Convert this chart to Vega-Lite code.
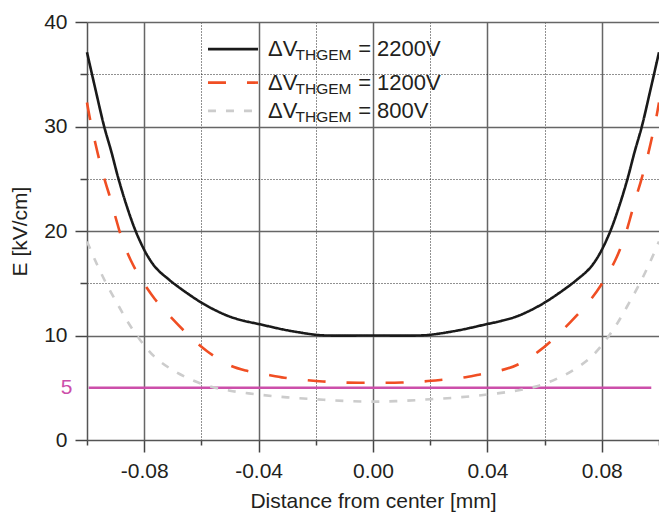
{
  "$schema": "https://vega.github.io/schema/vega-lite/v6.json",
  "width": 572,
  "height": 418,
  "autosize": "none",
  "padding": {"left": 87, "top": 22, "right": 0, "bottom": 72},
  "background": "white",
  "config": {
    "view": {"stroke": null},
    "font": "Liberation Sans",
    "axis": {"labelFont": "Liberation Sans", "titleFont": "Liberation Sans", "titleFontWeight": "normal", "labelColor": "#231f20", "titleColor": "#231f20"}
  },
  "datasets": {
    "curves": [
      {"series": "2200V", "x": -0.1, "E": 37.1},
      {"series": "2200V", "x": -0.097, "E": 33.5},
      {"series": "2200V", "x": -0.094, "E": 30.0},
      {"series": "2200V", "x": -0.0915, "E": 27.6},
      {"series": "2200V", "x": -0.089, "E": 25.0},
      {"series": "2200V", "x": -0.086, "E": 22.3},
      {"series": "2200V", "x": -0.083, "E": 20.0},
      {"series": "2200V", "x": -0.08, "E": 18.2},
      {"series": "2200V", "x": -0.078, "E": 17.25},
      {"series": "2200V", "x": -0.076, "E": 16.5},
      {"series": "2200V", "x": -0.074, "E": 15.95},
      {"series": "2200V", "x": -0.072, "E": 15.5},
      {"series": "2200V", "x": -0.07, "E": 15.05},
      {"series": "2200V", "x": -0.065, "E": 14.05},
      {"series": "2200V", "x": -0.06, "E": 13.15},
      {"series": "2200V", "x": -0.055, "E": 12.4},
      {"series": "2200V", "x": -0.05, "E": 11.8},
      {"series": "2200V", "x": -0.045, "E": 11.4},
      {"series": "2200V", "x": -0.04, "E": 11.1},
      {"series": "2200V", "x": -0.03, "E": 10.5},
      {"series": "2200V", "x": -0.02, "E": 10.07},
      {"series": "2200V", "x": -0.016, "E": 10.0},
      {"series": "2200V", "x": 0.0, "E": 10.0},
      {"series": "2200V", "x": 0.016, "E": 10.0},
      {"series": "2200V", "x": 0.02, "E": 10.07},
      {"series": "2200V", "x": 0.03, "E": 10.5},
      {"series": "2200V", "x": 0.04, "E": 11.1},
      {"series": "2200V", "x": 0.045, "E": 11.4},
      {"series": "2200V", "x": 0.05, "E": 11.8},
      {"series": "2200V", "x": 0.055, "E": 12.4},
      {"series": "2200V", "x": 0.06, "E": 13.15},
      {"series": "2200V", "x": 0.065, "E": 14.05},
      {"series": "2200V", "x": 0.07, "E": 15.05},
      {"series": "2200V", "x": 0.072, "E": 15.5},
      {"series": "2200V", "x": 0.074, "E": 15.95},
      {"series": "2200V", "x": 0.076, "E": 16.5},
      {"series": "2200V", "x": 0.078, "E": 17.25},
      {"series": "2200V", "x": 0.08, "E": 18.2},
      {"series": "2200V", "x": 0.083, "E": 20.0},
      {"series": "2200V", "x": 0.086, "E": 22.3},
      {"series": "2200V", "x": 0.089, "E": 25.0},
      {"series": "2200V", "x": 0.0915, "E": 27.6},
      {"series": "2200V", "x": 0.094, "E": 30.0},
      {"series": "2200V", "x": 0.097, "E": 33.5},
      {"series": "2200V", "x": 0.1, "E": 37.1},

      {"series": "1200V", "x": -0.1, "E": 32.3},
      {"series": "1200V", "x": -0.099, "E": 30.8},
      {"series": "1200V", "x": -0.097, "E": 28.3},
      {"series": "1200V", "x": -0.0955, "E": 26.6},
      {"series": "1200V", "x": -0.0935, "E": 24.6},
      {"series": "1200V", "x": -0.0918, "E": 23.1},
      {"series": "1200V", "x": -0.0898, "E": 21.1},
      {"series": "1200V", "x": -0.0877, "E": 19.2},
      {"series": "1200V", "x": -0.0847, "E": 17.2},
      {"series": "1200V", "x": -0.0813, "E": 15.5},
      {"series": "1200V", "x": -0.0763, "E": 13.5},
      {"series": "1200V", "x": -0.071, "E": 11.85},
      {"series": "1200V", "x": -0.064, "E": 9.9},
      {"series": "1200V", "x": -0.058, "E": 8.5},
      {"series": "1200V", "x": -0.0505, "E": 7.2},
      {"series": "1200V", "x": -0.0445, "E": 6.65},
      {"series": "1200V", "x": -0.037, "E": 6.25},
      {"series": "1200V", "x": -0.031, "E": 5.96},
      {"series": "1200V", "x": -0.0235, "E": 5.74},
      {"series": "1200V", "x": -0.0175, "E": 5.6},
      {"series": "1200V", "x": -0.01, "E": 5.5},
      {"series": "1200V", "x": 0.0, "E": 5.48},
      {"series": "1200V", "x": 0.01, "E": 5.5},
      {"series": "1200V", "x": 0.0175, "E": 5.6},
      {"series": "1200V", "x": 0.0235, "E": 5.74},
      {"series": "1200V", "x": 0.031, "E": 5.96},
      {"series": "1200V", "x": 0.037, "E": 6.25},
      {"series": "1200V", "x": 0.0445, "E": 6.65},
      {"series": "1200V", "x": 0.0505, "E": 7.2},
      {"series": "1200V", "x": 0.058, "E": 8.5},
      {"series": "1200V", "x": 0.064, "E": 9.9},
      {"series": "1200V", "x": 0.071, "E": 11.85},
      {"series": "1200V", "x": 0.0763, "E": 13.5},
      {"series": "1200V", "x": 0.0813, "E": 15.5},
      {"series": "1200V", "x": 0.0847, "E": 17.2},
      {"series": "1200V", "x": 0.0877, "E": 19.2},
      {"series": "1200V", "x": 0.0898, "E": 21.1},
      {"series": "1200V", "x": 0.0918, "E": 23.1},
      {"series": "1200V", "x": 0.0935, "E": 24.6},
      {"series": "1200V", "x": 0.0955, "E": 26.6},
      {"series": "1200V", "x": 0.097, "E": 28.3},
      {"series": "1200V", "x": 0.099, "E": 30.8},
      {"series": "1200V", "x": 0.1, "E": 32.3},

      {"series": "800V", "x": -0.1, "E": 19.0},
      {"series": "800V", "x": -0.097, "E": 17.1},
      {"series": "800V", "x": -0.0935, "E": 15.1},
      {"series": "800V", "x": -0.0895, "E": 13.1},
      {"series": "800V", "x": -0.0855, "E": 11.2},
      {"series": "800V", "x": -0.0815, "E": 9.6},
      {"series": "800V", "x": -0.0765, "E": 8.0},
      {"series": "800V", "x": -0.071, "E": 6.85},
      {"series": "800V", "x": -0.065, "E": 5.95},
      {"series": "800V", "x": -0.058, "E": 5.2},
      {"series": "800V", "x": -0.05, "E": 4.72},
      {"series": "800V", "x": -0.04, "E": 4.35},
      {"series": "800V", "x": -0.03, "E": 4.08},
      {"series": "800V", "x": -0.02, "E": 3.9},
      {"series": "800V", "x": -0.01, "E": 3.74},
      {"series": "800V", "x": 0.0, "E": 3.67},
      {"series": "800V", "x": 0.01, "E": 3.74},
      {"series": "800V", "x": 0.02, "E": 3.9},
      {"series": "800V", "x": 0.03, "E": 4.08},
      {"series": "800V", "x": 0.04, "E": 4.35},
      {"series": "800V", "x": 0.05, "E": 4.72},
      {"series": "800V", "x": 0.058, "E": 5.2},
      {"series": "800V", "x": 0.065, "E": 5.95},
      {"series": "800V", "x": 0.071, "E": 6.85},
      {"series": "800V", "x": 0.0765, "E": 8.0},
      {"series": "800V", "x": 0.0815, "E": 9.6},
      {"series": "800V", "x": 0.0855, "E": 11.2},
      {"series": "800V", "x": 0.0895, "E": 13.1},
      {"series": "800V", "x": 0.0935, "E": 15.1},
      {"series": "800V", "x": 0.097, "E": 17.1},
      {"series": "800V", "x": 0.1, "E": 19.0}
    ],
    "ref": [
      {"x": -0.0994, "E": 5},
      {"x": 0.0973, "E": 5}
    ],
    "legend": [
      {"series": "2200V", "label": "= 2200V", "E": 37.4},
      {"series": "1200V", "label": "= 1200V", "E": 34.2},
      {"series": "800V", "label": "= 800V", "E": 31.5}
    ]
  },
  "layer": [
    {
      "data": {"name": "ref"},
      "mark": {"type": "line", "color": "#CC4FAA", "strokeWidth": 2.5},
      "encoding": {
        "x": {
          "field": "x", "type": "quantitative",
          "scale": {"domain": [-0.1, 0.1], "nice": false, "zero": false},
          "axis": {
            "values": [-0.1, -0.08, -0.06, -0.04, -0.02, 0, 0.02, 0.04, 0.06, 0.08, 0.1],
            "title": "Distance from center [mm]",
            "titleFontSize": 21,
            "titlePadding": 9,
            "labelExpr": "abs(round(datum.value*100)) % 4 == 0 && abs(datum.value) < 0.09 ? (datum.value < -0.001 ? '-' : '') + format(abs(datum.value), '.2f') : ''",
            "labelFontSize": 21,
            "labelPadding": 8,
            "labelFlush": false,
            "labelOverlap": false,
            "tickSize": {"condition": {"test": "abs(round(datum.value*100)) % 4 == 0 && abs(datum.value) < 0.09", "value": 12}, "value": 5},
            "tickColor": "#444",
            "tickWidth": 1.5,
            "domainColor": "#555",
            "domainWidth": 1.5,
            "grid": true,
            "gridColor": {"condition": {"test": "abs(round(datum.value*100)) % 4 == 2", "value": "#222"}, "value": "#666"},
            "gridDash": {"condition": {"test": "abs(round(datum.value*100)) % 4 == 2", "value": [1, 2]}, "value": []},
            "gridWidth": {"condition": {"test": "abs(round(datum.value*100)) % 4 == 2", "value": 1}, "value": 1.5},
            "gridOpacity": {"condition": {"test": "abs(datum.value) > 0.09", "value": 0}, "value": 1}
          }
        },
        "y": {
          "field": "E", "type": "quantitative",
          "scale": {"domain": [0, 40], "nice": false},
          "axis": {
            "values": [0, 5, 10, 15, 20, 25, 30, 35, 40],
            "title": "E [kV/cm]",
            "titleFontSize": 21,
            "titlePadding": 13,
            "labelExpr": "datum.value % 10 == 0 || datum.value == 5 ? datum.label : ''",
            "labelFontSize": 21,
            "labelPadding": 8,
            "labelFlush": false,
            "labelOverlap": false,
            "labelColor": {"condition": {"test": "datum.value == 5", "value": "#CC4FAA"}, "value": "#231f20"},
            "tickSize": {"condition": {"test": "datum.value % 10 == 0", "value": 12}, "value": 7},
            "tickOpacity": {"condition": {"test": "datum.value == 5", "value": 0}, "value": 1},
            "tickColor": "#444",
            "tickWidth": 1.5,
            "domainColor": "#555",
            "domainWidth": 1.5,
            "grid": true,
            "gridColor": {"condition": {"test": "datum.value % 10 == 5", "value": "#222"}, "value": "#666"},
            "gridDash": {"condition": {"test": "datum.value % 10 == 5", "value": [1, 2]}, "value": []},
            "gridWidth": {"condition": {"test": "datum.value % 10 == 5", "value": 1}, "value": 1.5},
            "gridOpacity": {"condition": {"test": "datum.value <= 5", "value": 0}, "value": 1}
          }
        }
      }
    },
    {
      "data": {"name": "curves"},
      "mark": {"type": "line", "strokeWidth": 2.6, "interpolate": "catmull-rom"},
      "encoding": {
        "x": {"field": "x", "type": "quantitative"},
        "y": {"field": "E", "type": "quantitative"},
        "color": {"field": "series", "type": "nominal", "scale": {"domain": ["2200V", "1200V", "800V"], "range": ["#1a1a1a", "#F04E23", "#CCCCCC"]}, "legend": null},
        "strokeDash": {"field": "series", "type": "nominal", "scale": {"domain": ["2200V", "1200V", "800V"], "range": [[1, 0], [18, 21], [8, 10]]}, "legend": null},
        "order": {"field": "x", "type": "quantitative"}
      }
    },
    {
      "data": {"name": "legend"},
      "mark": {"type": "rule", "strokeWidth": 2.6},
      "encoding": {
        "x": {"datum": -0.0577, "type": "quantitative"},
        "x2": {"datum": -0.0402},
        "y": {"field": "E", "type": "quantitative"},
        "color": {"field": "series", "type": "nominal", "legend": null},
        "strokeDash": {"field": "series", "type": "nominal", "legend": null}
      }
    },
    {
      "data": {"name": "legend"},
      "mark": {"type": "text", "align": "left", "baseline": "alphabetic", "dy": 7, "fontSize": 22, "color": "#231f20"},
      "encoding": {
        "x": {"datum": -0.0367, "type": "quantitative"},
        "y": {"field": "E", "type": "quantitative"},
        "text": {"value": "ΔV"}
      }
    },
    {
      "data": {"name": "legend"},
      "mark": {"type": "text", "align": "left", "baseline": "alphabetic", "dy": 11, "fontSize": 15.5, "color": "#231f20"},
      "encoding": {
        "x": {"datum": -0.0271, "type": "quantitative"},
        "y": {"field": "E", "type": "quantitative"},
        "text": {"value": "THGEM"}
      }
    },
    {
      "data": {"name": "legend"},
      "mark": {"type": "text", "align": "left", "baseline": "alphabetic", "dy": 7, "fontSize": 22, "color": "#231f20"},
      "encoding": {
        "x": {"datum": -0.0052, "type": "quantitative"},
        "y": {"field": "E", "type": "quantitative"},
        "text": {"field": "label", "type": "nominal"}
      }
    }
  ]
}
